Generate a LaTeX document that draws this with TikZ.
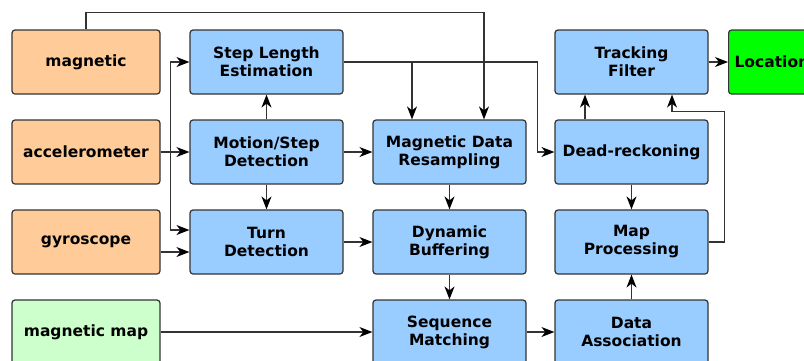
\documentclass[tikz,border=0pt]{standalone}
\usepackage{fontspec}
\setmainfont{DejaVu Sans}
\usepackage{tikz}
\usetikzlibrary{arrows.meta}
\definecolor{sensor orange}{rgb}{1.0, 0.8, 0.6}
\definecolor{block blue}{rgb}{0.6, 0.8, 1.0}
\definecolor{map green}{rgb}{0.8, 1.0, 0.8}
\definecolor{out green}{rgb}{0.0, 1.0, 0.0}
\definecolor{edge gray}{rgb}{0.2, 0.2, 0.2}

\begin{document}
\begin{tikzpicture}[x=1pt, y=1pt,
		block/.style = {draw = edge gray, line width = 1.2pt, rounded corners = 3pt,
			minimum width = 153pt, minimum height = 64pt, align = center,
			font = \fontsize{15.5}{18}\selectfont\bfseries, fill = block blue},
		sensor/.style = {block, minimum width = 148pt, fill = sensor orange},
		arr/.style = {draw = edge gray, line width = 1.2pt,
			-{Stealth[length = 13pt, width = 10pt, inset = 4pt, color = black]}}]
			\useasboundingbox (0, 0) rectangle (804, -360);
			\clip (0, 0) rectangle (804, -360);
			% Part for sensors
			\node [sensor] (mag) at (86, -62) {magnetic};
			\node [sensor] (acc) at (86, -152) {accelerometer};
			\node [sensor] (gyro) at (86, -242) {gyroscope};
			\node [sensor, fill = map green] (magmap) at (86, -332) {magnetic map};
			% Part for processing blocks
			\node [block] (steplen) at (266.5, -62) {Step Length\\Estimation};
			\node [block] (motion) at (266.5, -152) {Motion/Step\\Detection};
			\node [block] (turn) at (266.5, -242) {Turn\\Detection};
			\node [block] (resamp) at (449.5, -152) {Magnetic Data\\Resampling};
			\node [block] (buffer) at (449.5, -242) {Dynamic\\Buffering};
			\node [block] (seqmatch) at (449.5, -332) {Sequence\\Matching};
			\node [block] (track) at (631.5, -62) {Tracking\\Filter};
			\node [block] (deadreck) at (631.5, -152) {Dead-reckoning};
			\node [block] (mapproc) at (631.5, -242) {Map\\Processing};
			\node [block] (dataassoc) at (631.5, -332) {Data\\Association};
			\node [block, minimum width = 0pt, inner sep = 6pt, anchor = west, fill = out green]
				(location) at (728, -62) {Location};
			% connectors
			\draw [arr] (mag.north) -- ++(0, 17) -| ([xshift = 34.5pt]resamp.north);
			\draw [arr] (steplen.east) -| ([xshift = -17pt]deadreck.west) -- (deadreck.west);
			\draw [arr] ([xshift = -37.5pt]resamp.north |- steplen.east) -- ([xshift = -37.5pt]resamp.north);
			\draw [arr] (acc) -- (motion);
			\draw [arr] ([xshift = 10pt]acc.east) |- (steplen.west);
			\draw [arr] ([xshift = 10pt]acc.east) |- ([yshift = 12pt]turn.west);
			\draw [arr] ([yshift = -10pt]gyro.east) -- ([yshift = -10pt]turn.west);
			\draw [arr] (motion) -- (steplen);
			\draw [arr] (motion) -- (turn);
			\draw [arr] (motion) -- (resamp);
			\draw [arr] (turn) -- (buffer);
			\draw [arr] (resamp) -- (buffer);
			\draw [arr] (buffer) -- (seqmatch);
			\draw [arr] (magmap) -- (seqmatch);
			\draw [arr] (seqmatch) -- (dataassoc);
			\draw [arr] (dataassoc) -- (mapproc);
			\draw [arr] (deadreck) -- (mapproc);
			\draw [arr] ([xshift = -46.5pt]deadreck.north) -- ([xshift = -46.5pt]track.south);
			\draw [arr] (mapproc.east) -| ([xshift = 16pt, yshift = -17pt]track.south east)
				-| ([xshift = 40.5pt]track.south);
			\draw [arr] (track) -- (location);
		\end{tikzpicture}
\end{document}
